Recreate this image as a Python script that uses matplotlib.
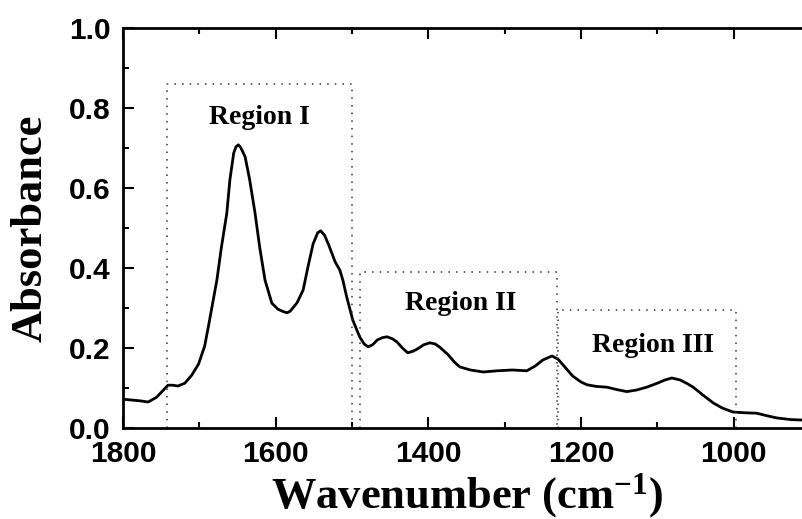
import matplotlib
matplotlib.use("Agg")
import matplotlib.pyplot as plt
from matplotlib.ticker import MultipleLocator, FormatStrFormatter

plt.rcParams["mathtext.fontset"] = "custom"
plt.rcParams["mathtext.rm"] = "Liberation Serif:bold"
plt.rcParams["mathtext.bf"] = "Liberation Serif:bold"
plt.rcParams["mathtext.it"] = "Liberation Serif:bold"

# Spectrum data (wavenumber in cm^-1, absorbance)
wavenumber = [1800, 1789, 1778, 1767, 1756, 1747, 1741, 1735, 1728, 1719, 1710, 1701,
              1693, 1688, 1677, 1671, 1664, 1660, 1655, 1652, 1649, 1646, 1640, 1634, 1627,
              1621, 1614, 1605, 1597, 1590, 1585, 1581, 1572, 1564,
              1558, 1551, 1545, 1541, 1536, 1531, 1522, 1516, 1512, 1507, 1499, 1490,
              1484, 1479, 1473, 1467, 1460, 1454, 1447, 1441, 1434, 1427, 1420, 1414,
              1406, 1398, 1391, 1385, 1374, 1366, 1359, 1345, 1328, 1310, 1290, 1271,
              1260, 1250, 1238, 1230, 1220, 1211, 1200, 1192, 1180, 1166, 1153, 1140,
              1127, 1114, 1100, 1090, 1081, 1070, 1060, 1053, 1040, 1027, 1015, 1001,
              985, 970, 955, 943, 925, 911, 900]
absorbance = [0.072, 0.070, 0.068, 0.065, 0.077, 0.095, 0.107, 0.107, 0.105, 0.112, 0.132, 0.160,
              0.205, 0.255, 0.370, 0.453, 0.537, 0.620, 0.687, 0.703, 0.708, 0.702, 0.678, 0.620, 0.537,
              0.453, 0.370, 0.312, 0.297, 0.291, 0.288, 0.292, 0.313, 0.345,
              0.400, 0.460, 0.488, 0.493, 0.482, 0.460, 0.415, 0.395, 0.370, 0.328, 0.270, 0.228,
              0.210, 0.203, 0.208, 0.220, 0.226, 0.228, 0.223, 0.215, 0.200, 0.188, 0.192, 0.198,
              0.208, 0.213, 0.210, 0.202, 0.183, 0.165, 0.153, 0.145, 0.140, 0.143, 0.145, 0.143,
              0.155, 0.170, 0.180, 0.172, 0.150, 0.130, 0.115, 0.108, 0.104, 0.102, 0.096, 0.091,
              0.095, 0.102, 0.112, 0.120, 0.125, 0.120, 0.110, 0.102, 0.082, 0.063, 0.050, 0.040,
              0.038, 0.037, 0.030, 0.025, 0.021, 0.020, 0.020]

# Region boxes
region_labels = ["Region I", "Region II", "Region III"]
region_hi = [1742, 1490, 1230]
region_lo = [1500, 1232, 997]
region_top = [0.86, 0.39, 0.295]
label_x = [1621, 1357, 1106]
label_y = [0.775, 0.3125, 0.2075]

fig = plt.figure(figsize=(8.02, 5.19), dpi=100)
ax = fig.add_axes([123 / 802, 91 / 519, 687 / 802, 400 / 519])

ax.plot(wavenumber, absorbance, color="black", lw=2.0, solid_joinstyle="round")

for lab, hi, lo, top, lx, ly in zip(region_labels, region_hi, region_lo, region_top, label_x, label_y):
    ax.plot([hi, hi, lo, lo], [0, top, top, 0], color="#333333", lw=1.1,
            linestyle=(0, (1, 4)))
    ax.text(lx, ly, lab, ha="center", va="center", family="Liberation Serif",
            fontweight="bold", fontsize=20)

ax.set_xlim(1800, 900)
ax.set_ylim(0, 1.0)
ax.xaxis.set_major_locator(MultipleLocator(200))
ax.xaxis.set_minor_locator(MultipleLocator(100))
ax.yaxis.set_major_locator(MultipleLocator(0.2))
ax.yaxis.set_minor_locator(MultipleLocator(0.1))
ax.yaxis.set_major_formatter(FormatStrFormatter("%.1f"))

ax.tick_params(which="both", direction="in", top=True, right=False, width=1.5)
ax.tick_params(which="major", length=8, pad=9)
ax.tick_params(which="minor", length=4.5)
for lab in ax.get_xticklabels() + ax.get_yticklabels():
    lab.set_family("Liberation Sans")
    lab.set_fontweight("bold")
    lab.set_fontsize(21.5)
for s in ax.spines.values():
    s.set_linewidth(2.0)

ax.set_xlabel("Wavenumber (cm$^{-1}$)", family="Liberation Serif",
              fontweight="bold", fontsize=32, labelpad=2)
ax.set_ylabel("Absorbance", family="Liberation Serif", fontweight="bold",
              fontsize=32, labelpad=13)

fig.savefig("out.png", dpi=100)
